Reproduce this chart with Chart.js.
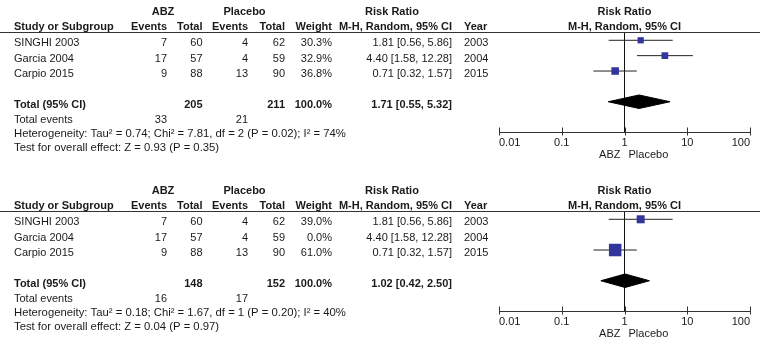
<!DOCTYPE html>
<html>
<head>
<meta charset="utf-8">
<script src="https://cdn.jsdelivr.net/npm/chart.js@4"></script>
<style>
  body { margin: 0; background: #fff; width: 760px; height: 341px; overflow: hidden; position: relative; }
  canvas { position: absolute; left: 0; }
</style>
</head>
<body>
<canvas id="panel1" width="760" height="179" style="top:0"></canvas>
<canvas id="panel2" width="760" height="162" style="top:179px"></canvas>
<script>
// Study level data
const studies = ['SINGHI 2003', 'Garcia 2004', 'Carpio 2015'];
const years = [2003, 2004, 2015];
const abzEvents = [7, 17, 9];
const abzTotals = [60, 57, 88];
const placeboEvents = [4, 4, 13];
const placeboTotals = [62, 59, 90];
const riskRatio = [1.81, 4.40, 0.71];
const ciLow = [0.56, 1.58, 0.32];
const ciHigh = [5.86, 12.28, 1.57];
const xTicks = [0.01, 0.1, 1, 10, 100];

// Panel 1 (all three studies)
const weights1 = [30.3, 32.9, 36.8];
const totals1 = [205, 211];
const events1 = [33, 21];
const pooled1 = [1.71, 0.55, 5.32];
const stats1 = ['Heterogeneity: Tau\u00b2 = 0.74; Chi\u00b2 = 7.81, df = 2 (P = 0.02); I\u00b2 = 74%',
                'Test for overall effect: Z = 0.93 (P = 0.35)'];

// Panel 2 (Garcia weighted 0)
const weights2 = [39.0, 0.0, 61.0];
const totals2 = [148, 152];
const events2 = [16, 17];
const pooled2 = [1.02, 0.42, 2.50];
const stats2 = ['Heterogeneity: Tau\u00b2 = 0.18; Chi\u00b2 = 1.67, df = 1 (P = 0.20); I\u00b2 = 40%',
                'Test for overall effect: Z = 0.04 (P = 0.97)'];

const TOTAL_ROW = 4;
const BOLD = 'bold 11px "Liberation Sans", Arial, sans-serif';
const NORMAL = '11px "Liberation Sans", Arial, sans-serif';
const STATS = '11.3px "Liberation Sans", Arial, sans-serif';
const INK = '#1a1a1a';

function txt(ctx, s, x, y, align, font) {
    ctx.font = font || NORMAL;
    ctx.textAlign = align || 'left';
    ctx.fillText(s, x, y);
}

// Draws the table text, header rule and the bottom axis
const forestTable = {
    id: 'forestTable',
    afterDraw(chart, args, opts) {
        const ctx = chart.ctx;
        const xs = chart.scales.x, ys = chart.scales.y;
        const area = chart.chartArea;
        const rowBase = r => ys.getPixelForValue(r) + 6;
        ctx.save();
        ctx.fillStyle = INK;
        ctx.textBaseline = 'alphabetic';

        // headers
        txt(ctx, 'ABZ', 163, 14.6, 'center', BOLD);
        txt(ctx, 'Placebo', 244.5, 14.6, 'center', BOLD);
        txt(ctx, 'Risk Ratio', 392, 14.6, 'center', BOLD);
        txt(ctx, 'Risk Ratio', xs.getPixelForValue(1), 14.6, 'center', BOLD);
        txt(ctx, 'Study or Subgroup', 14, 29.6, 'left', BOLD);
        txt(ctx, 'Events', 167, 29.6, 'right', BOLD);
        txt(ctx, 'Total', 202.5, 29.6, 'right', BOLD);
        txt(ctx, 'Events', 248, 29.6, 'right', BOLD);
        txt(ctx, 'Total', 285, 29.6, 'right', BOLD);
        txt(ctx, 'Weight', 332, 29.6, 'right', BOLD);
        txt(ctx, 'M-H, Random, 95% CI', 452, 29.6, 'right', BOLD);
        txt(ctx, 'Year', 464, 29.6, 'left', BOLD);
        txt(ctx, 'M-H, Random, 95% CI', xs.getPixelForValue(1), 29.6, 'center', BOLD);

        // header rule
        ctx.strokeStyle = '#333';
        ctx.lineWidth = 1;
        ctx.beginPath();
        ctx.moveTo(0, area.top + 0.5);
        ctx.lineTo(760, area.top + 0.5);
        ctx.stroke();

        // study rows
        studies.forEach((s, i) => {
            const y = rowBase(i);
            txt(ctx, s, 14, y);
            txt(ctx, String(abzEvents[i]), 167, y, 'right');
            txt(ctx, String(abzTotals[i]), 202.5, y, 'right');
            txt(ctx, String(placeboEvents[i]), 248, y, 'right');
            txt(ctx, String(placeboTotals[i]), 285, y, 'right');
            txt(ctx, opts.weights[i].toFixed(1) + '%', 332, y, 'right');
            txt(ctx, riskRatio[i].toFixed(2) + ' [' + ciLow[i].toFixed(2) + ', ' + ciHigh[i].toFixed(2) + ']', 452, y, 'right');
            txt(ctx, String(years[i]), 464, y);
        });

        // total row
        const ty = rowBase(TOTAL_ROW);
        const p = opts.pooled;
        txt(ctx, 'Total (95% CI)', 14, ty, 'left', BOLD);
        txt(ctx, String(opts.totals[0]), 202.5, ty, 'right', BOLD);
        txt(ctx, String(opts.totals[1]), 285, ty, 'right', BOLD);
        txt(ctx, '100.0%', 332, ty, 'right', BOLD);
        txt(ctx, p[0].toFixed(2) + ' [' + p[1].toFixed(2) + ', ' + p[2].toFixed(2) + ']', 452, ty, 'right', BOLD);

        txt(ctx, 'Total events', 14, 122.5);
        txt(ctx, String(opts.events[0]), 167, 122.5, 'right');
        txt(ctx, String(opts.events[1]), 248, 122.5, 'right');
        txt(ctx, opts.stats[0], 14, 137, 'left', STATS);
        txt(ctx, opts.stats[1], 14, 151, 'left', STATS);

        // bottom axis with upward ticks
        const ay = area.bottom + 0.5;
        ctx.beginPath();
        ctx.moveTo(xs.getPixelForValue(xTicks[0]), ay);
        ctx.lineTo(xs.getPixelForValue(xTicks[xTicks.length - 1]), ay);
        xTicks.forEach(t => {
            const px = Math.round(xs.getPixelForValue(t)) + 0.5;
            ctx.moveTo(px, ay - 5);
            ctx.lineTo(px, ay + 3);
        });
        ctx.stroke();
        xTicks.forEach((t, i) => {
            const align = i === 0 ? 'left' : (i === xTicks.length - 1 ? 'right' : 'center');
            txt(ctx, String(t), xs.getPixelForValue(t), 145.5, align);
        });
        txt(ctx, 'ABZ', xs.getPixelForValue(1) - 4, 157.5, 'right');
        txt(ctx, 'Placebo', xs.getPixelForValue(1) + 4, 157.5, 'left');
        ctx.restore();
    }
};

function makePanel(canvasId, weights, totals, events, pooled, stats) {
    const height = document.getElementById(canvasId).height;
    const yMin = -0.54, yMax = 5.97;
    const used = weights.map(w => w > 0);
    const datasets = [];

    // line of no effect
    datasets.push({
        data: [{ x: 1, y: yMin }, { x: 1, y: yMax }],
        borderColor: '#111', borderWidth: 1, pointRadius: 0, order: 5
    });

    // confidence intervals
    studies.forEach((s, i) => {
        if (!used[i]) return;
        datasets.push({
            data: [{ x: ciLow[i], y: i }, { x: ciHigh[i], y: i }],
            borderColor: '#222', borderWidth: 1, pointRadius: 0, order: 4
        });
    });

    // study estimates, square size by weight
    datasets.push({
        data: riskRatio.map((r, i) => ({ x: r, y: i })).filter((d, i) => used[i]),
        showLine: false,
        pointStyle: 'rect',
        pointRadius: weights.filter(w => w > 0).map(w => w * 0.145),
        backgroundColor: '#32359b',
        borderWidth: 0,
        order: 1
    });

    // pooled diamond
    const h = 0.44;
    datasets.push({
        data: [
            { x: pooled[1], y: TOTAL_ROW }, { x: pooled[0], y: TOTAL_ROW - h },
            { x: pooled[2], y: TOTAL_ROW }, { x: pooled[0], y: TOTAL_ROW + h },
            { x: pooled[1], y: TOTAL_ROW }
        ],
        fill: 'shape',
        backgroundColor: '#000', borderColor: '#000', borderWidth: 1,
        pointRadius: 0, order: 2
    });

    return new Chart(document.getElementById(canvasId), {
        type: 'line',
        data: { datasets: datasets },
        options: {
            responsive: false,
            animation: false,
            events: [],
            layout: { padding: { left: 499, right: 10, top: 32, bottom: height - 132 } },
            scales: {
                x: { type: 'logarithmic', min: 0.01, max: 100, display: false },
                y: { type: 'linear', min: yMin, max: yMax, reverse: true, display: false }
            },
            plugins: {
                legend: { display: false },
                tooltip: { enabled: false },
                forestTable: { weights: weights, totals: totals, events: events, pooled: pooled, stats: stats }
            }
        },
        plugins: [forestTable]
    });
}

makePanel('panel1', weights1, totals1, events1, pooled1, stats1);
makePanel('panel2', weights2, totals2, events2, pooled2, stats2);
</script>
</body>
</html>
